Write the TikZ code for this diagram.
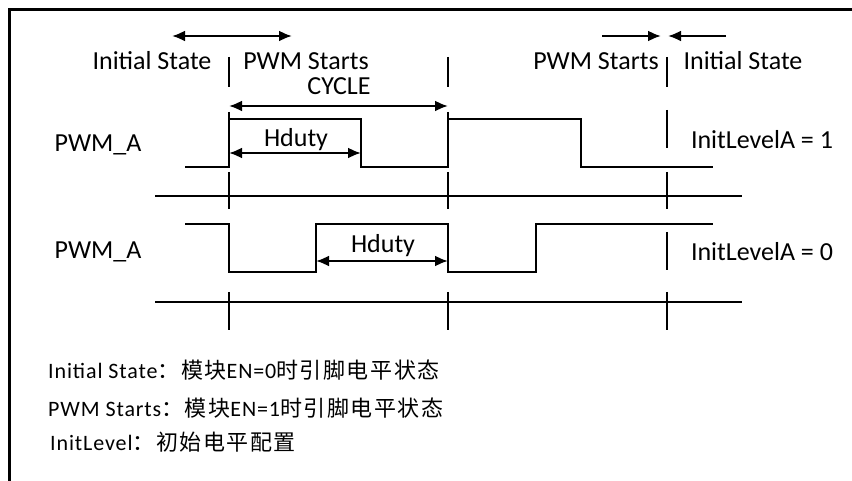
\documentclass[tikz,border=0pt]{standalone}
\usepackage{fontspec}
\setmainfont{Carlito}
\newfontfamily\notefont[LetterSpace=4]{Carlito}
\newfontfamily\cjk[LetterSpace=7]{Noto Sans CJK SC}
\usetikzlibrary{arrows.meta}

\begin{document}
\begin{tikzpicture}[x=1pt, y=-1pt,
  wave/.style={line width=2.2pt},
  tick/.style={line width=2.2pt},
  dim/.style={line width=2.2pt, {Latex[length=13pt,width=11pt]}-{Latex[length=13pt,width=11pt]}},
  oneway/.style={line width=2.2pt, -{Latex[length=13pt,width=11pt]}},
  lbl/.style={font=\fontsize{26}{30}\selectfont, inner sep=0pt, anchor=base},
  note/.style={font=\notefont\fontsize{22}{26}\selectfont, inner sep=0pt, anchor=base west}]
  \useasboundingbox (0,0) rectangle (852,481);
  \draw[line width=3pt] (9,481) -- (9,10) -- (852,10);

  \draw[dim] (172,36) -- (292,36);
  \draw[oneway] (602,36) -- (661,36);
  \draw[oneway] (726,36) -- (668,36);
  \node[lbl] (initL) at (152,70) {Initial State};
  \node[lbl] (pwmL) at (306,70) {PWM Starts};
  \node[lbl] (pwmR) at (596,70) {PWM Starts};
  \node[lbl] (initR) at (743,70) {Initial State};
  \node[lbl] (cycle) at (339,95) {CYCLE};

  \draw[tick] (229,57) -- (229,87);
  \draw[tick] (448,57) -- (448,87);
  \draw[tick] (667,57) -- (667,87);
  \draw[dim] (229,106) -- (448,106);

  \draw[tick] (229,112) -- (229,167) (229,172) -- (229,209) (229,292) -- (229,330);
  \draw[tick] (448,112) -- (448,167) (448,172) -- (448,209) (448,292) -- (448,330);
  \draw[tick] (667,110) -- (667,148) (667,172) -- (667,209) (667,232) -- (667,270) (667,292) -- (667,330);

  \draw[wave] (155,196) -- (742,196);
  \draw[wave] (155,302) -- (742,302);
  \draw[wave] (185,167) -| (229,119) -| (361,167) -| (448,119) -| (581,167) -- (713,167);
  \draw[wave] (185,224) -| (229,272) -| (316,224) -| (448,272) -| (536,224) -- (713,224);

  \draw[dim] (229,153) -- (361,153);
  \draw[dim] (316,261) -- (448,261);
  \node[lbl] (hdA) at (296,147) {Hduty};
  \node[lbl] (hdB) at (383,253) {Hduty};

  \node[lbl] (pwmA1) at (98,152) {PWM\_A};
  \node[lbl] (pwmA2) at (98,259) {PWM\_A};
  \node[lbl] (lvl1) at (762,149) {InitLevelA = 1};
  \node[lbl] (lvl0) at (762,261) {InitLevelA = 0};

  \node[note] (noteA) at (48,378) {Initial State{\cjk ：模块}EN=0{\cjk 时引脚电平状态}};
  \node[note] (noteB) at (48,416) {PWM Starts{\cjk ：模块}EN=1{\cjk 时引脚电平状态}};
  \node[note] (noteC) at (50,450) {InitLevel{\cjk ：初始电平配置}};
\end{tikzpicture}
\end{document}
